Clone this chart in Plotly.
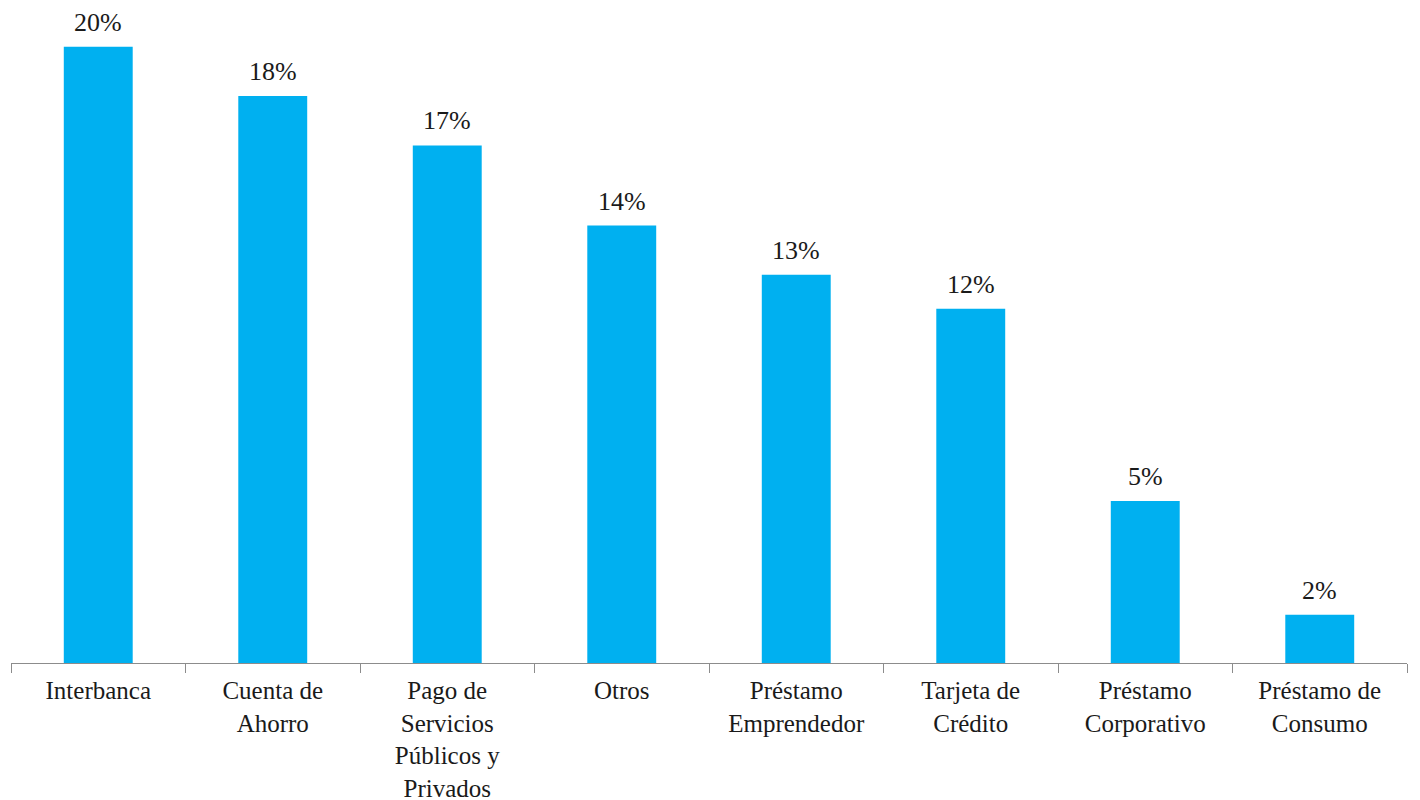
import plotly.graph_objects as go

categories = [
    "Interbanca",
    "Cuenta de<br>Ahorro",
    "Pago de<br>Servicios<br>Públicos y<br>Privados",
    "Otros",
    "Préstamo<br>Emprendedor",
    "Tarjeta de<br>Crédito",
    "Préstamo<br>Corporativo",
    "Préstamo de<br>Consumo",
]
values = [0.200, 0.184, 0.168, 0.142, 0.126, 0.115, 0.0526, 0.0157]
value_labels = [f"{round(v * 100)}%" for v in values]

BAR_COLOR = "#00B0F0"
FONT = "Liberation Serif"

fig = go.Figure()
fig.add_trace(go.Bar(
    x=categories,
    y=values,
    marker=dict(color=BAR_COLOR, line=dict(width=0)),
    hoverinfo="skip",
))

for c, v, t in zip(categories, values, value_labels):
    fig.add_annotation(
        x=c, y=v, text=t, showarrow=False,
        xanchor="center", yanchor="bottom", yshift=8,
        font=dict(family=FONT, size=26, color="#1a1a1a"),
    )

# page body has an 8px default margin, so the figure is sized to fill the rest
fig.update_layout(
    width=1412, height=792, autosize=False,
    margin=dict(l=3, r=13, t=8, b=137, autoexpand=False),
    plot_bgcolor="white", paper_bgcolor="white",
    bargap=0.605,
    showlegend=False,
    font=dict(family=FONT, size=25, color="#1a1a1a"),
)
fig.update_xaxes(
    type="category",
    range=[-0.5, 7.5],
    automargin=False,
    showline=True, linecolor="#8c8c8c", linewidth=1,
    ticks="outside", tickson="boundaries", ticklen=9, tickcolor="#8c8c8c",
    ticklabelstandoff=5,
    showgrid=False, zeroline=False,
    tickfont=dict(family=FONT, size=25, color="#1a1a1a"),
    tickangle=0,
)
fig.update_yaxes(
    range=[0, 0.21],
    automargin=False,
    visible=False, showgrid=False, zeroline=False,
)

fig.write_html("out.html")
